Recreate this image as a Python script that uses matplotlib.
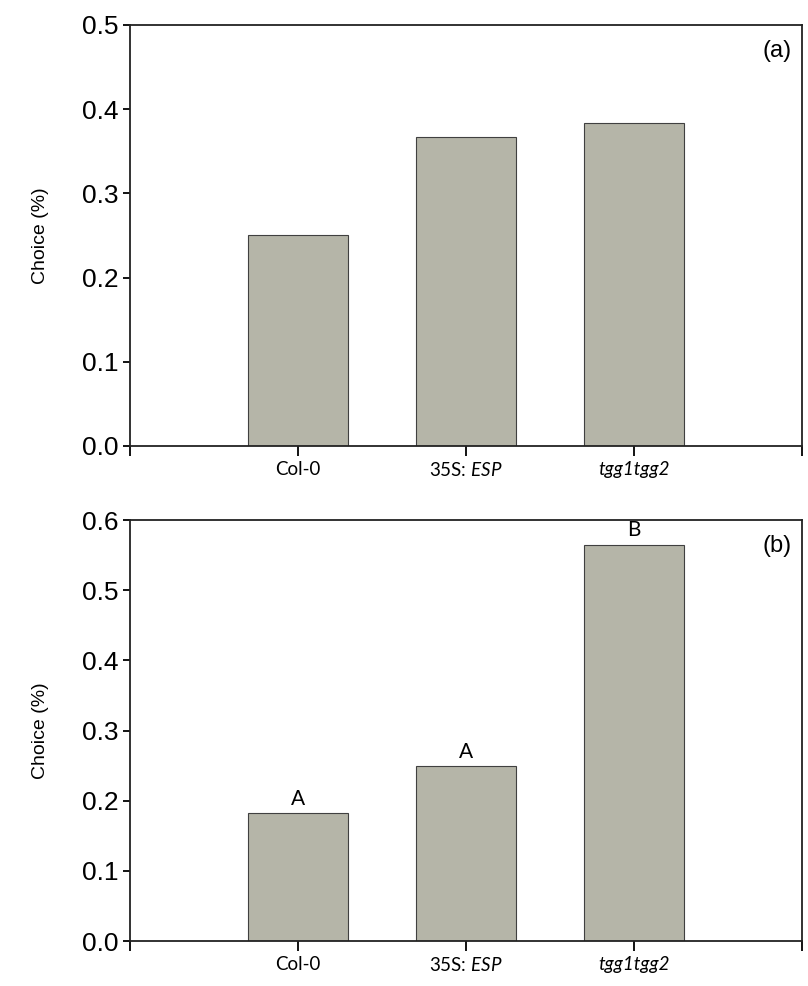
import numpy as np
import matplotlib.pyplot as plt

plt.rcParams["mathtext.fontset"] = "custom"
plt.rcParams["mathtext.rm"] = "Lato"
plt.rcParams["mathtext.it"] = "Lato:italic"

categories = ["Col-0", "35S: $\\it{ESP}$", "tgg1tgg2"]
italic_cats = [False, False, True]
choice_a = [0.250, 0.367, 0.383]
choice_b = [0.182, 0.249, 0.565]
letters_b = ["A", "A", "B"]

bar_color = "#b5b5a8"
tick_font = "Liberation Sans"
cat_font = "Lato"


def draw_panel(ax, values, ymax, tag, letters=None):
    x = np.arange(1, len(values) + 1)
    ax.bar(x, values, width=0.6, color=bar_color, edgecolor="#404040",
           linewidth=0.8, zorder=2)
    ax.set_xlim(0, len(values) + 1)
    ax.set_ylim(0, ymax)
    ax.set_yticks(np.arange(0, ymax + 0.01, 0.1))
    ax.set_yticklabels(["%.1f" % v for v in np.arange(0, ymax + 0.01, 0.1)],
                       fontsize=19, family=tick_font)
    ax.set_xticks(np.arange(0, len(values) + 2))
    labels = ax.set_xticklabels([""] + categories + [""], fontsize=13.5,
                                family=cat_font)
    for lab, it in zip(labels[1:-1], italic_cats):
        if it:
            lab.set_fontstyle("italic")
    ax.tick_params(axis="x", direction="out", length=7, width=1.3, pad=4)
    ax.tick_params(axis="y", direction="out", length=5, width=1.3, pad=3)
    for s in ax.spines.values():
        s.set_linewidth(1.3)
        s.set_color("#222222")
    ax.set_ylabel("Choice (%)", fontsize=14, family=tick_font, labelpad=24)
    ax.text(0.985, 0.965, tag, transform=ax.transAxes, ha="right", va="top",
            fontsize=17, family=tick_font)
    if letters:
        for xi, v, l in zip(x, values, letters):
            ax.text(xi, v + 0.006, l, ha="center", va="bottom", fontsize=15,
                    family=cat_font)


fig = plt.figure(figsize=(8.08, 9.86), dpi=100)
ax1 = fig.add_axes([0.161, 0.5477, 0.8317, 0.4270])
ax2 = fig.add_axes([0.161, 0.0456, 0.8317, 0.4270])

draw_panel(ax1, choice_a, 0.5, "(a)")
draw_panel(ax2, choice_b, 0.6, "(b)", letters_b)

fig.savefig("out.png", dpi=100)
